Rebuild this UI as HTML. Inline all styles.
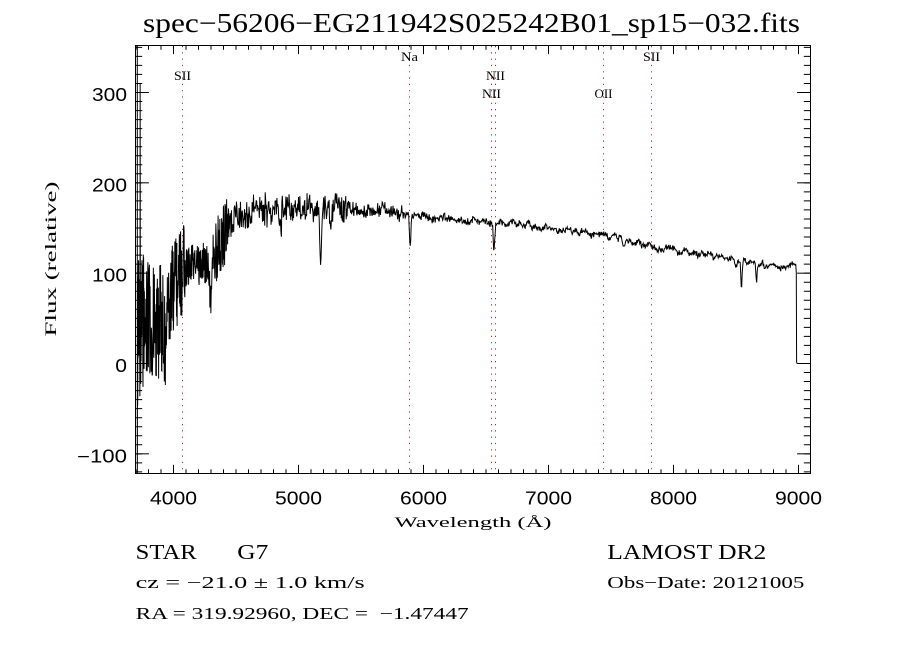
<!DOCTYPE html>
<html><head><meta charset="utf-8"><style>
html,body{margin:0;padding:0;background:#fff;}
svg{display:block;}
text{white-space:pre;}
.sans{font-family:"Liberation Sans",sans-serif;}
.serif{font-family:"Liberation Serif",serif;}
</style></head><body>
<svg width="900" height="650" viewBox="0 0 900 650" xmlns="http://www.w3.org/2000/svg">
<rect width="900" height="650" fill="#fff"/>
<defs><clipPath id="pc"><rect x="135.5" y="45.5" width="675" height="428"/></clipPath></defs>

<!-- title -->
<text class="serif" x="143" y="32" font-size="27" textLength="657" lengthAdjust="spacingAndGlyphs">spec−56206−EG211942S025242B01_sp15−032.fits</text>

<!-- dotted line markers -->
<g stroke="#993333" stroke-width="1" stroke-dasharray="1.2 5.1" fill="none">
<line x1="182.5" y1="46" x2="182.5" y2="473"/>
<line x1="409.5" y1="46" x2="409.5" y2="473"/>
<line x1="491.5" y1="46" x2="491.5" y2="473"/>
<line x1="495.5" y1="46" x2="495.5" y2="473"/>
<line x1="603.5" y1="46" x2="603.5" y2="473"/>
<line x1="651.5" y1="46" x2="651.5" y2="473"/>
</g>
<g class="serif" font-size="12.5" text-anchor="middle">
<text x="182.5" y="80" textLength="17" lengthAdjust="spacingAndGlyphs">SII</text>
<text x="409.5" y="61" textLength="17" lengthAdjust="spacingAndGlyphs">Na</text>
<text x="495.5" y="80" textLength="19" lengthAdjust="spacingAndGlyphs">NII</text>
<text x="491.5" y="98" textLength="19" lengthAdjust="spacingAndGlyphs">NII</text>
<text x="603.5" y="98" textLength="18" lengthAdjust="spacingAndGlyphs">OII</text>
<text x="651.5" y="61" textLength="17" lengthAdjust="spacingAndGlyphs">SII</text>
</g>

<!-- spectrum -->
<polyline id="spec" clip-path="url(#pc)" fill="none" stroke="#000" stroke-width="1" points=""/>

<!-- axes box -->
<rect x="135.5" y="45.5" width="675" height="428" fill="none" stroke="#000" stroke-width="1"/>

<!-- minor ticks via dasharray -->
<g stroke="#000" fill="none">
<line x1="135.5" y1="471.35" x2="810.5" y2="471.35" stroke-width="4.3" stroke-dasharray="1 11.5"/>
<line x1="135.5" y1="47.65" x2="810.5" y2="47.65" stroke-width="4.3" stroke-dasharray="1 11.5"/>
<line x1="138.85" y1="46.83" x2="138.85" y2="473" stroke-width="6.7" stroke-dasharray="1 8.0333"/>
<line x1="807.15" y1="46.83" x2="807.15" y2="473" stroke-width="6.7" stroke-dasharray="1 8.0333"/>
</g>
<!-- major ticks -->
<g stroke="#000" stroke-width="1">
<line x1="173.5" y1="473.5" x2="173.5" y2="464.9"/><line x1="173.5" y1="45.5" x2="173.5" y2="54.1"/>
<line x1="298.5" y1="473.5" x2="298.5" y2="464.9"/><line x1="298.5" y1="45.5" x2="298.5" y2="54.1"/>
<line x1="423.5" y1="473.5" x2="423.5" y2="464.9"/><line x1="423.5" y1="45.5" x2="423.5" y2="54.1"/>
<line x1="548.5" y1="473.5" x2="548.5" y2="464.9"/><line x1="548.5" y1="45.5" x2="548.5" y2="54.1"/>
<line x1="673.5" y1="473.5" x2="673.5" y2="464.9"/><line x1="673.5" y1="45.5" x2="673.5" y2="54.1"/>
<line x1="798.5" y1="473.5" x2="798.5" y2="464.9"/><line x1="798.5" y1="45.5" x2="798.5" y2="54.1"/>
<line x1="135.5" y1="453.83" x2="148.9" y2="453.83"/><line x1="810.5" y1="453.83" x2="797.1" y2="453.83"/>
<line x1="135.5" y1="363.5" x2="148.9" y2="363.5"/><line x1="810.5" y1="363.5" x2="797.1" y2="363.5"/>
<line x1="135.5" y1="273.17" x2="148.9" y2="273.17"/><line x1="810.5" y1="273.17" x2="797.1" y2="273.17"/>
<line x1="135.5" y1="182.83" x2="148.9" y2="182.83"/><line x1="810.5" y1="182.83" x2="797.1" y2="182.83"/>
<line x1="135.5" y1="92.5" x2="148.9" y2="92.5"/><line x1="810.5" y1="92.5" x2="797.1" y2="92.5"/>
</g>

<!-- x tick labels -->
<g class="sans" font-size="18" text-anchor="middle">
<text x="173.5" y="504.3" textLength="47" lengthAdjust="spacingAndGlyphs">4000</text>
<text x="298.5" y="504.3" textLength="47" lengthAdjust="spacingAndGlyphs">5000</text>
<text x="423.5" y="504.3" textLength="47" lengthAdjust="spacingAndGlyphs">6000</text>
<text x="548.5" y="504.3" textLength="47" lengthAdjust="spacingAndGlyphs">7000</text>
<text x="673.5" y="504.3" textLength="47" lengthAdjust="spacingAndGlyphs">8000</text>
<text x="798.5" y="504.3" textLength="47" lengthAdjust="spacingAndGlyphs">9000</text>
</g>
<!-- y tick labels -->
<g class="sans" font-size="18" text-anchor="end">
<text x="127" y="462.3" textLength="50" lengthAdjust="spacingAndGlyphs">−100</text>
<text x="127" y="372" textLength="11.7" lengthAdjust="spacingAndGlyphs">0</text>
<text x="127" y="281.7" textLength="35" lengthAdjust="spacingAndGlyphs">100</text>
<text x="127" y="191.3" textLength="35" lengthAdjust="spacingAndGlyphs">200</text>
<text x="127" y="101" textLength="35" lengthAdjust="spacingAndGlyphs">300</text>
</g>

<!-- axis titles -->
<text class="serif" x="473" y="527" font-size="15" text-anchor="middle" textLength="157" lengthAdjust="spacingAndGlyphs">Wavelength (Å)</text>
<text class="serif" transform="translate(56,259) rotate(-90)" x="0" y="0" font-size="16" text-anchor="middle" textLength="155" lengthAdjust="spacingAndGlyphs">Flux (relative)</text>

<!-- info text -->
<g class="serif">
<text x="135.7" y="559" font-size="21" textLength="61" lengthAdjust="spacingAndGlyphs">STAR</text>
<text x="237.3" y="559" font-size="21" textLength="31" lengthAdjust="spacingAndGlyphs">G7</text>
<text x="607.3" y="559" font-size="21" textLength="159" lengthAdjust="spacingAndGlyphs">LAMOST DR2</text>
<text x="135.7" y="588" font-size="16.5" textLength="229" lengthAdjust="spacingAndGlyphs">cz = −21.0 ± 1.0 km/s</text>
<text x="607.3" y="588" font-size="16.5" textLength="197" lengthAdjust="spacingAndGlyphs">Obs−Date: 20121005</text>
<text x="135.7" y="619" font-size="16.5" textLength="333" lengthAdjust="spacingAndGlyphs">RA = 319.92960, DEC =  −1.47447</text>
</g>
</svg>
<script>
(function(){
function m32(a){return function(){a|=0;a=a+0x6D2B79F5|0;var t=Math.imul(a^a>>>15,1|a);t=t+Math.imul(t^t>>>7,61|t)^t;return((t^t>>>14)>>>0)/4294967296;};}
var R=m32(20121005);
function ip(arr,x){if(x<=arr[0][0])return arr[0][1];for(var i=1;i<arr.length;i++){if(x<=arr[i][0]){var a=arr[i-1],b=arr[i];return a[1]+(b[1]-a[1])*(x-a[0])/(b[0]-a[0]);}}return arr[arr.length-1][1];}
var cont=[[137,325],[143,322],[160,322],[165,320],[168,300],[175,285],[185,268],[200,264],[210,262],[213,250],[220,242],[227,228],[235,217],[250,213],[270,209],[300,210],[330,208],[350,209],[380,210],[400,213],[430,216],[460,219],[490,221],[520,224],[550,228],[580,232],[610,236],[622,238],[626,241],[650,245],[680,251],[700,254],[720,257],[740,260],[760,264],[795,267]];
var uamp=[[137,92],[142,90],[145,62],[163,57],[166,45],[184,46],[186,22],[210,20],[213,36],[226,34],[229,16],[260,14]];
var amp=[[229,18],[260,20],[340,18],[355,10],[400,8],[415,5],[500,4],[800,3.5]];
var samp=[[137,0],[230,4],[400,3],[800,3]];
var dips=[[166,30,1.2],[210.8,50,0.9],[281,20,0.8],[320.6,55,0.9],[331,22,0.8],[410.2,34,0.7],[494,28,0.7],[532.5,5,1],[623.5,8,1],[736,8,0.8],[741.5,26,0.7],[756.5,19,0.7]];
var sm=[];for(var i=0;i<=900;i++)sm.push(R()*2-1);
function smooth(x){var i=Math.floor(x/3),f=x/3-i;f=(1-Math.cos(f*Math.PI))/2;return sm[i]*(1-f)+sm[i+1]*f;}
var pts=[[137.3,20],[137.3,520],[137.5,330]];
var x=137.6;
while(x<=795.8){
 var c=ip(cont,x),y;
 if(x<245){
   var ua=ip(uamp,x);
   var r=R()*2-1;
   y=c+r*ua;
 } else {
   var a=ip(amp,x);
   y=c+(R()+R()-1)*a+smooth(x)*ip(samp,x);
 }
 for(var k=0;k<dips.length;k++){var d=dips[k];var u=(x-d[0])/d[2];if(Math.abs(u)<5)y+=d[1]*Math.exp(-0.5*u*u);}
 if(Math.abs(x-140.2)<0.08)y=84;
 pts.push([x,y]);
 x+= x<145?0.15:(x<230?0.25:(x<400?0.45:0.5));
}
pts.push([796.3,273],[796.6,362],[797,363.5]);
var s=pts.map(function(p){return p[0].toFixed(2)+','+p[1].toFixed(1);}).join(' ');
document.getElementById('spec').setAttribute('points',s);
})();
</script>
</body></html>
